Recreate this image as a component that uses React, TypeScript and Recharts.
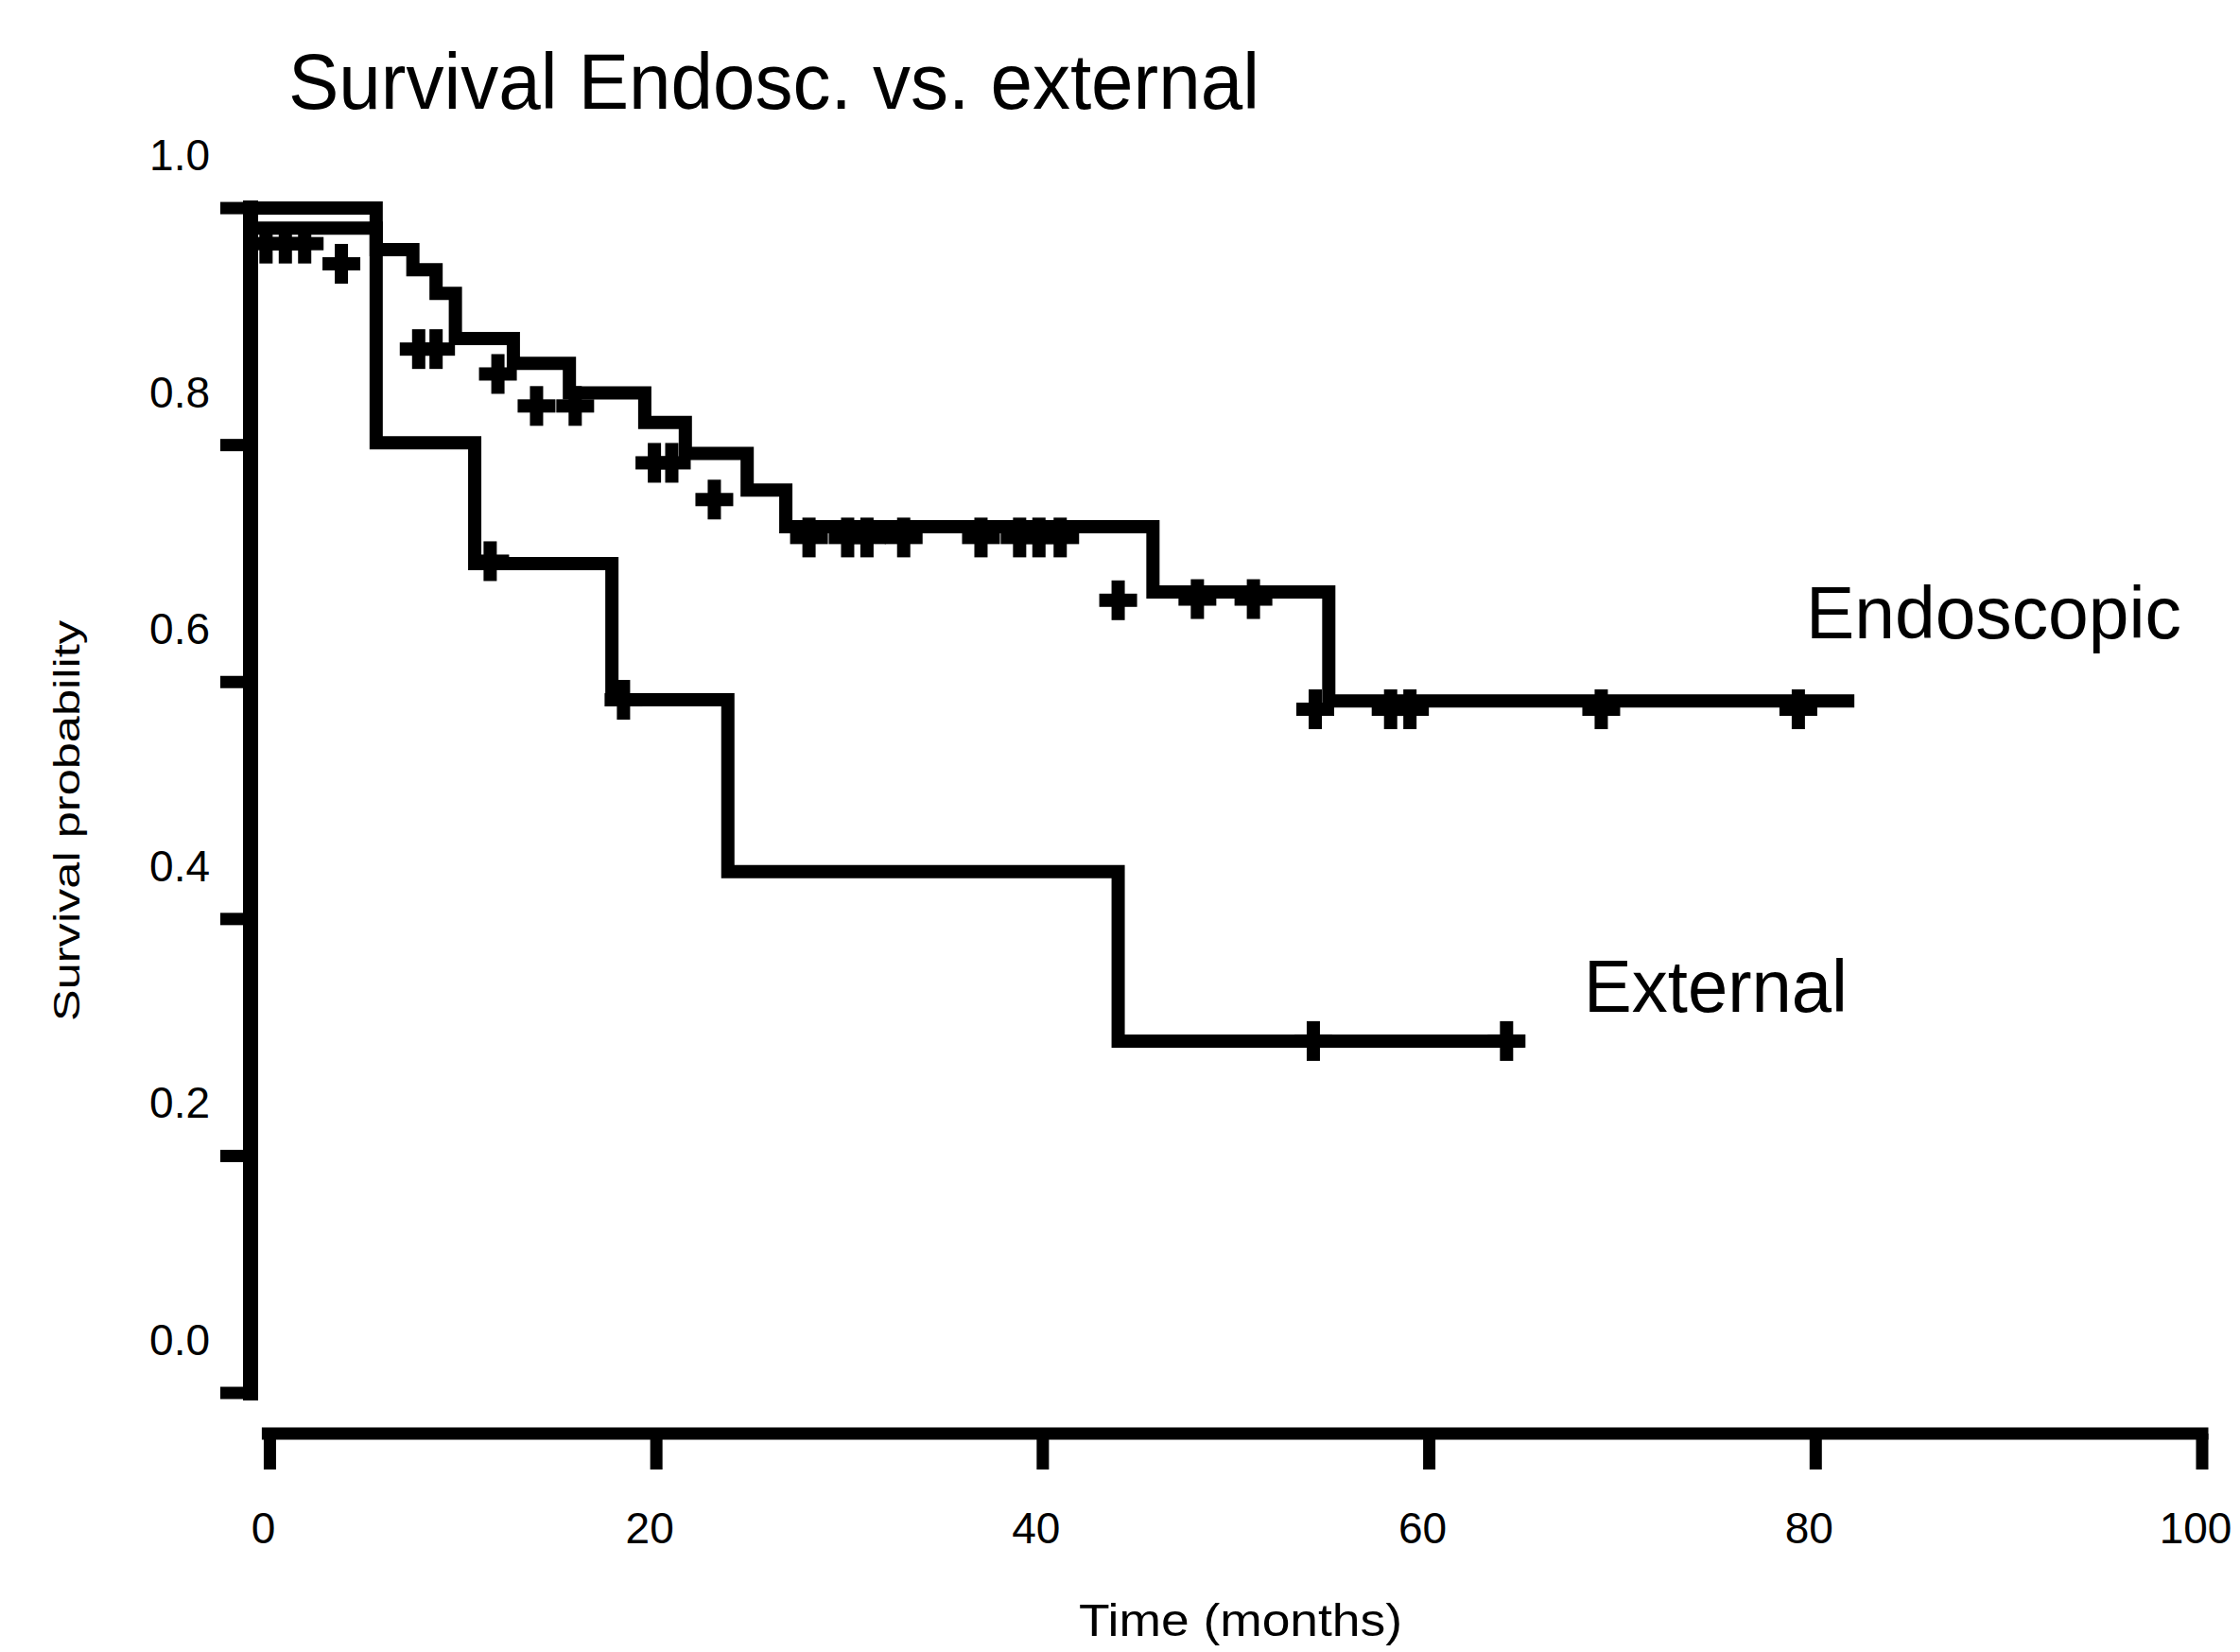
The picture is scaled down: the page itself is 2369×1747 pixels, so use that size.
import React from 'react';
import { ComposedChart, Line, Scatter, XAxis, YAxis, ReferenceLine } from 'recharts';

const W = 2369;
const H = 1747;
const FONT = '"Liberation Sans", Arial, Helvetica, sans-serif';

// y domain runs a bit below 0 so the x axis sits under the end of the y axis
const Y_MIN = -0.0343;
const Y_MAX = 1.02;

const xTicks = [0, 20, 40, 60, 80, 100];
const yTicks = [0, 0.2, 0.4, 0.6, 0.8, 1.0];

// Kaplan-Meier steps (months, survival probability); curves start at the y axis
const endoTime = [-1, 5.5, 7.4, 8.6, 9.6, 12.6, 15.5, 19.4, 21.5, 24.7, 26.7, 45.7, 54.8, 82.0];
const endoSurv = [0.983, 0.965, 0.948, 0.928, 0.89, 0.869, 0.844, 0.819, 0.793, 0.762, 0.731, 0.676, 0.584, 0.584];
const extTime = [-1, 5.5, 10.6, 17.7, 23.7, 43.9, 64.9];
const extSurv = [1.0, 0.802, 0.7, 0.585, 0.44, 0.297, 0.297];

// censoring marks (drawn a little below the curve in the original)
const endoCensorTime = [
  -0.2, 0.8, 1.8, 3.7, 7.7, 8.6, 11.8, 13.8, 15.8, 19.9, 20.8, 23.0,
  27.9, 29.9, 30.9, 32.8, 36.8, 38.8, 39.8, 40.9, 43.9, 48.0, 50.9,
  54.1, 58.0, 59.0, 68.9, 79.1,
];
const endoCensorSurv = [
  0.97, 0.97, 0.97, 0.953, 0.881, 0.881, 0.86, 0.833, 0.833, 0.785, 0.785, 0.754,
  0.722, 0.722, 0.722, 0.722, 0.722, 0.722, 0.722, 0.722, 0.669, 0.67, 0.67,
  0.577, 0.577, 0.577, 0.577, 0.577,
];
const extCensorTime = [11.4, 18.3, 54.0, 64.0];
const extCensorSurv = [0.702, 0.585, 0.297, 0.297];

const zip = (ts: number[], ps: number[]) => ts.map((t, i) => ({ t, p: ps[i] }));

const endoData = zip(endoTime, endoSurv);
const extData = zip(extTime, extSurv);
const endoCensor = zip(endoCensorTime, endoCensorSurv);
const extCensor = zip(extCensorTime, extCensorSurv);

const Cross = (props: any) => {
  const { cx, cy } = props;
  if (cx == null || cy == null) return null;
  return (
    <g>
      <rect x={cx - 7} y={cy - 21} width={14} height={42} fill="#000" />
      <rect x={cx - 20} y={cy - 7} width={40} height={14} fill="#000" />
    </g>
  );
};

const XTick = (props: any) => {
  const { x, y, payload } = props;
  return (
    <text x={x - 7} y={y + 78} textAnchor="middle" fontSize={46} fontFamily={FONT} fill="#000">
      {payload.value}
    </text>
  );
};

const YTick = (props: any) => {
  const { x, y, payload } = props;
  return (
    <text x={x} y={y - 40} textAnchor="end" fontSize={46} fontFamily={FONT} fill="#000">
      {Number(payload.value).toFixed(1)}
    </text>
  );
};

export default function App() {
  return (
    <div style={{ position: 'absolute', left: 0, top: 0, width: W, height: H, background: '#fff' }}>
      <ComposedChart
        width={W}
        height={H}
        margin={{ top: 195, right: 40, bottom: 0, left: 0 }}
      >
        <XAxis
          type="number"
          dataKey="t"
          domain={[-1, 100]}
          ticks={xTicks}
          interval={0}
          axisLine={false}
          tickLine={{ stroke: '#000', strokeWidth: 13 }}
          tickSize={38}
          tickMargin={0}
          tick={XTick}
          height={231}
        />
        <YAxis
          type="number"
          dataKey="p"
          domain={[Y_MIN, Y_MAX]}
          ticks={yTicks}
          interval={0}
          axisLine={false}
          tickLine={{ stroke: '#000', strokeWidth: 13 }}
          tickSize={32}
          tickMargin={11}
          tick={YTick}
          width={265}
        />
        <ReferenceLine
          segment={[{ x: -1, y: 0 }, { x: -1, y: 1 }]}
          stroke="#000"
          strokeWidth={16}
          strokeLinecap="square"
        />
        <ReferenceLine
          segment={[{ x: -0.1, y: Y_MIN }, { x: 100, y: Y_MIN }]}
          stroke="#000"
          strokeWidth={13}
          strokeLinecap="square"
        />
        <Line
          data={extData}
          dataKey="p"
          type="stepAfter"
          stroke="#000"
          strokeWidth={14}
          dot={false}
          activeDot={false}
          isAnimationActive={false}
        />
        <Line
          data={endoData}
          dataKey="p"
          type="stepAfter"
          stroke="#000"
          strokeWidth={14}
          dot={false}
          activeDot={false}
          isAnimationActive={false}
        />
        <Scatter data={endoCensor} dataKey="p" shape={Cross} isAnimationActive={false} />
        <Scatter data={extCensor} dataKey="p" shape={Cross} isAnimationActive={false} />
      </ComposedChart>

      <svg
        width={W}
        height={H}
        style={{ position: 'absolute', left: 0, top: 0, pointerEvents: 'none' }}
        fontFamily={FONT}
        fill="#000"
      >
        <text x={305} y={115} fontSize={83} textLength={1027} lengthAdjust="spacingAndGlyphs">
          Survival Endosc. vs. external
        </text>
        <text x={1910} y={675} fontSize={77} textLength={397} lengthAdjust="spacingAndGlyphs">
          Endoscopic
        </text>
        <text x={1675} y={1070} fontSize={77} textLength={279} lengthAdjust="spacingAndGlyphs">
          External
        </text>
        <text x={1141} y={1730} fontSize={48} textLength={342} lengthAdjust="spacingAndGlyphs">
          Time (months)
        </text>
        <text
          x={84}
          y={868}
          fontSize={39}
          textAnchor="middle"
          textLength={424}
          lengthAdjust="spacingAndGlyphs"
          transform="rotate(-90 84 868)"
        >
          Survival probability
        </text>
      </svg>
    </div>
  );
}
